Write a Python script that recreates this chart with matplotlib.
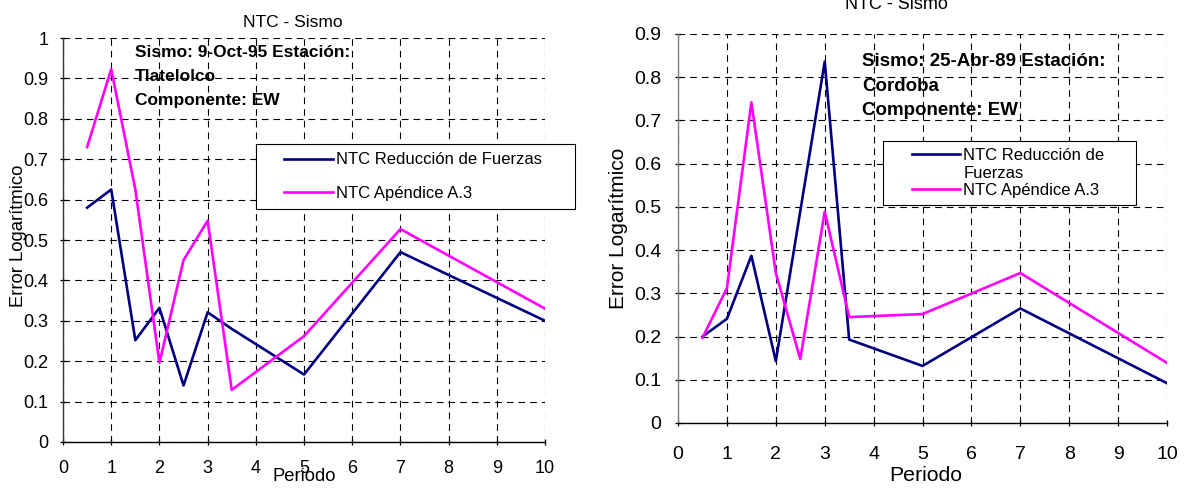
import matplotlib

matplotlib.use("Agg")
import matplotlib.pyplot as plt
from matplotlib.legend_handler import HandlerLine2D

plt.rcParams["font.family"] = ["Liberation Sans", "DejaVu Sans"]

NAVY = "#000080"
MAGENTA = "#FF00FF"

# Sismo 9-Oct-95, estacion Tlatelolco
periodo_tlat = [0.5, 1, 1.5, 2, 2.5, 3, 3.5, 5, 7, 10]
reduccion_tlat = [0.58, 0.625, 0.252, 0.332, 0.14, 0.321, 0.28, 0.167, 0.47, 0.30]
apendice_tlat = [0.73, 0.923, 0.625, 0.196, 0.45, 0.548, 0.129, 0.262, 0.527, 0.33]

# Sismo 25-Abr-89, estacion Cordoba
periodo_cord = [0.5, 1, 1.5, 2, 2.5, 3, 3.5, 5, 7, 10]
reduccion_cord = [0.2, 0.241, 0.387, 0.143, 0.49, 0.836, 0.193, 0.132, 0.265, 0.092]
apendice_cord = [0.197, 0.312, 0.742, 0.347, 0.148, 0.489, 0.245, 0.252, 0.347, 0.139]

x_ticks = list(range(0, 11))
y_ticks_tlat = [0, 0.1, 0.2, 0.3, 0.4, 0.5, 0.6, 0.7, 0.8, 0.9, 1.0]
y_labels_tlat = ["0", "0.1", "0.2", "0.3", "0.4", "0.5", "0.6", "0.7", "0.8", "0.9", "1"]
y_ticks_cord = [0, 0.1, 0.2, 0.3, 0.4, 0.5, 0.6, 0.7, 0.8, 0.9]
y_labels_cord = ["0", "0.1", "0.2", "0.3", "0.4", "0.5", "0.6", "0.7", "0.8", "0.9"]


class OffsetLine(HandlerLine2D):
    """Legend line that can be nudged up, so it sits on the first text row."""

    def __init__(self, dy=0.0, **kwargs):
        super().__init__(**kwargs)
        self.dy = dy

    def create_artists(self, legend, orig_handle, xdescent, ydescent, width, height, fontsize, trans):
        artists = super().create_artists(legend, orig_handle, xdescent, ydescent, width, height, fontsize, trans)
        for art in artists:
            art.set_ydata([y + self.dy for y in art.get_ydata()])
        return artists


def style_axes(ax, yticks, ylabels, tick_size, spine_color, xpad, ypad):
    ax.set_xlim(0, 10)
    ax.set_ylim(yticks[0], yticks[-1])
    ax.set_xticks(x_ticks)
    ax.set_yticks(yticks)
    ax.set_yticklabels(ylabels)
    ax.grid(True, color="black", linestyle=(0, (6, 4.5)), linewidth=0.8)
    ax.set_axisbelow(True)
    for side in ("top", "right"):
        ax.spines[side].set_visible(False)
    ax.spines["left"].set_color(spine_color)
    ax.spines["bottom"].set_color("black")
    ax.spines["left"].set_linewidth(1.0)
    ax.spines["bottom"].set_linewidth(1.0)
    ax.tick_params(axis="both", direction="inout", length=5, width=0.9, labelsize=tick_size)
    ax.tick_params(axis="x", pad=xpad)
    ax.tick_params(axis="y", pad=ypad)


fig = plt.figure(figsize=(11.87, 4.91), dpi=100)

# left panel: Tlatelolco
ax1 = fig.add_axes([0.0531, 0.0998, 0.4061, 0.8228])
l1, = ax1.plot(periodo_tlat, reduccion_tlat, color=NAVY, lw=1.9)
l2, = ax1.plot(periodo_tlat, apendice_tlat, color=MAGENTA, lw=1.9)
style_axes(ax1, y_ticks_tlat, y_labels_tlat, 13, "#333333", 10.5, 8)
ax1.text(0.477, 1.0396, "NTC - Sismo", transform=ax1.transAxes,
         ha="center", va="center", fontsize=12.5)
ax1.text(0.1494, 0.905, "Sismo: 9-Oct-95 Estación:\nTlatelolco\nComponente: EW",
         transform=ax1.transAxes, ha="left", va="center", fontsize=12.5,
         fontweight="bold", linespacing=1.72)
ax1.set_xlabel("Periodo", fontsize=13.2, va="center")
ax1.xaxis.set_label_coords(0.5, -0.0866)
ax1.set_ylabel("Error Logarítmico", fontsize=13.3, va="center")
ax1.yaxis.set_label_coords(-0.0934, 0.51)
leg1 = ax1.legend(
    [l1, l2], ["NTC Reducción de Fuerzas", "NTC Apéndice A.3"],
    loc="upper left", bbox_to_anchor=(0.4004, 0.7376, 0.6618, 0.0), mode="expand",
    borderaxespad=0, borderpad=0.5, labelspacing=1.09, handlelength=4.12,
    handletextpad=0.2, fontsize=12, fancybox=False, framealpha=1, edgecolor="black",
    handler_map={l1: OffsetLine(xpad=1.18), l2: OffsetLine(xpad=1.18)},
)
leg1.get_frame().set_linewidth(0.8)

# right panel: Cordoba
ax2 = fig.add_axes([0.5712, 0.1385, 0.412, 0.7923])
r1, = ax2.plot(periodo_cord, reduccion_cord, color=NAVY, lw=1.9)
r2, = ax2.plot(periodo_cord, apendice_cord, color=MAGENTA, lw=1.9)
style_axes(ax2, y_ticks_cord, y_labels_cord, 14, "#808080", 14, 9.5)
ax2.text(0.446, 1.0746, "NTC - Sismo", transform=ax2.transAxes,
         ha="center", va="center", fontsize=13)
ax2.text(0.3763, 0.866, "Sismo: 25-Abr-89 Estación:\nCordoba\nComponente: EW",
         transform=ax2.transAxes, ha="left", va="center", fontsize=13.5,
         fontweight="bold", linespacing=1.56)
ax2.set_xlabel("Periodo", fontsize=15.3, va="center")
ax2.xaxis.set_label_coords(0.507, -0.1337)
ax2.set_ylabel("Error Logarítmico", fontsize=15, va="center")
ax2.yaxis.set_label_coords(-0.122, 0.501)
leg2 = ax2.legend(
    [r1, r2], ["NTC Reducción de\nFuerzas", "NTC Apéndice A.3"],
    loc="upper left", bbox_to_anchor=(0.4192, 0.7249, 0.5174, 0.0), mode="expand",
    borderaxespad=0, borderpad=0.45, labelspacing=0.1, handlelength=4.17,
    handletextpad=0.2, fontsize=12, fancybox=False, framealpha=1, edgecolor="black",
    handler_map={r1: OffsetLine(xpad=1.29, dy=7.5), r2: OffsetLine(xpad=1.29)},
)
leg2.get_frame().set_linewidth(0.8)

fig.savefig("out.png", dpi=100)
plt.close(fig)
